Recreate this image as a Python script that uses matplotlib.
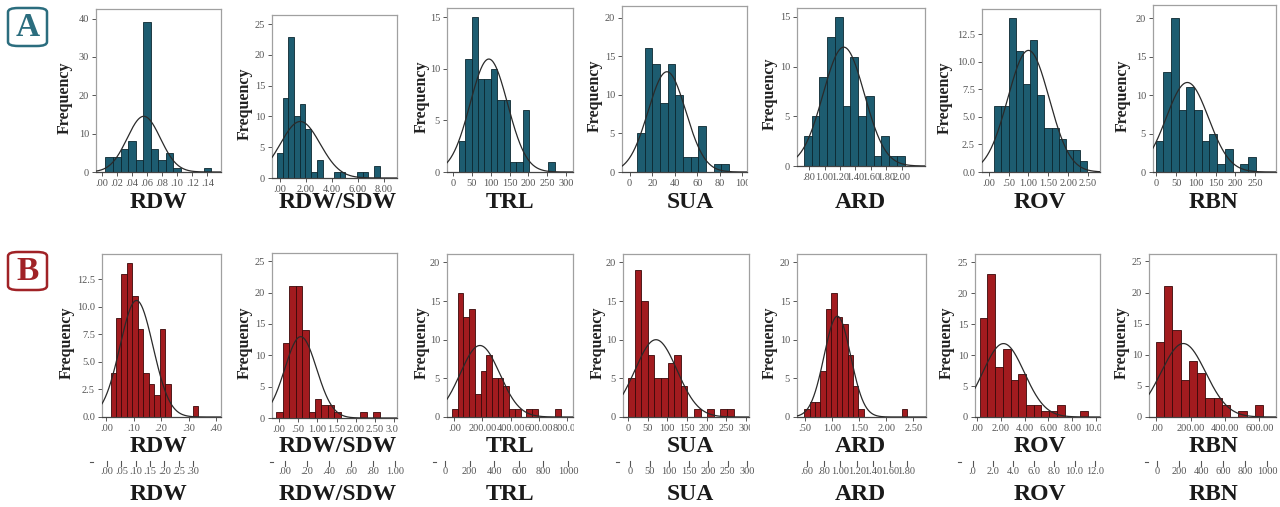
import numpy as np
import matplotlib
matplotlib.use('Agg')
import matplotlib.pyplot as plt
from matplotlib.patches import FancyBboxPatch
from matplotlib.transforms import Bbox, TransformedBbox

W, H = 1280, 507
plt.rcParams['font.family'] = ['Liberation Serif', 'DejaVu Serif']

names = ['RDW', 'RDW/SDW', 'TRL', 'SUA', 'ARD', 'ROV', 'RBN']

# row A (teal): frequency per bin, (left edge of first bin, bin width)
a_rdw = [4, 4, 6, 8, 3, 39, 6, 3, 5, 1, 0, 0, 0, 1]
a_rdw_bins = (0.005, 0.01)
a_rdwsdw = [4, 13, 23, 10, 12, 8, 1, 3, 0, 0, 1, 1, 0, 0, 1, 1, 0, 2]
a_rdwsdw_bins = (-0.25, 0.44)
a_trl = [3, 11, 15, 9, 9, 10, 7, 7, 1, 1, 6, 0, 0, 0, 1]
a_trl_bins = (15, 17)
a_sua = [5, 16, 14, 9, 14, 10, 2, 2, 6, 0, 1, 1]
a_sua_bins = (6.5, 6.8)
a_ard = [3, 5, 9, 13, 15, 6, 11, 5, 7, 1, 3, 1, 1]
a_ard_bins = (0.735, 0.1)
a_rov = [6, 6, 14, 11, 8, 12, 7, 4, 4, 3, 2, 2, 1]
a_rov_bins = (0.14, 0.18)
a_rbn = [4, 13, 20, 8, 11, 8, 4, 5, 1, 3, 0, 1, 2]
a_rbn_bins = (-2, 19.5)

# row B (red)
b_rdw = [4, 9, 13, 14, 11, 8, 4, 3, 2, 8, 3, 0, 0, 0, 0, 1]
b_rdw_bins = (0.015, 0.02)
b_rdwsdw = [1, 12, 21, 21, 14, 1, 3, 2, 2, 1, 0, 0, 0, 1, 0, 1]
b_rdwsdw_bins = (-0.07, 0.168)
b_trl = [1, 16, 13, 14, 3, 6, 8, 5, 5, 4, 1, 1, 0, 1, 1, 0, 0, 0, 1]
b_trl_bins = (-17, 40.7)
b_sua = [5, 19, 15, 8, 5, 5, 7, 8, 4, 0, 1, 0, 1, 0, 1, 1]
b_sua_bins = (0, 16.8)
b_ard = [1, 2, 2, 6, 14, 16, 13, 12, 8, 4, 1, 0, 0, 0, 0, 0, 0, 0, 1]
b_ard_bins = (0.488, 0.1)
b_rov = [16, 23, 8, 11, 6, 7, 2, 2, 1, 1, 2, 0, 0, 1]
b_rov_bins = (0.22, 0.65)
b_rbn = [12, 21, 14, 6, 9, 7, 3, 3, 2, 0, 1, 0, 2]
b_rbn_bins = (-4, 48.3)

# tick labels
a_xticks = [
    ([0, .02, .04, .06, .08, .10, .12, .14], ['.00', '.02', '.04', '.06', '.08', '.10', '.12', '.14']),
    ([0, 2, 4, 6, 8], ['.00', '2.00', '4.00', '6.00', '8.00']),
    ([0, 50, 100, 150, 200, 250, 300], ['0', '50', '100', '150', '200', '250', '300']),
    ([0, 20, 40, 60, 80, 100], ['0', '20', '40', '60', '80', '100']),
    ([.8, 1.0, 1.2, 1.4, 1.6, 1.8, 2.0], ['.80', '1.00', '1.20', '1.40', '1.60', '1.80', '2.00']),
    ([0, .5, 1, 1.5, 2, 2.5], ['.00', '.50', '1.00', '1.50', '2.00', '2.50']),
    ([0, 50, 100, 150, 200, 250], ['0', '50', '100', '150', '200', '250']),
]
b_xticks = [
    ([0, .1, .2, .3, .4], ['.00', '.10', '.20', '.30', '.40']),
    ([0, .5, 1, 1.5, 2, 2.5, 3], ['.00', '.50', '1.00', '1.50', '2.00', '2.50', '3.00']),
    ([0, 200, 400, 600, 800], ['.00', '200.00', '400.00', '600.00', '800.00']),
    ([0, 50, 100, 150, 200, 250, 300], ['0', '50', '100', '150', '200', '250', '300']),
    ([.5, 1, 1.5, 2, 2.5], ['.50', '1.00', '1.50', '2.00', '2.50']),
    ([0, 2, 4, 6, 8, 10], ['.00', '2.00', '4.00', '6.00', '8.00', '10.00']),
    ([0, 200, 400, 600], ['.00', '200.00', '400.00', '600.00']),
]
a_yticks = [[0, 10, 20, 30, 40], [0, 5, 10, 15, 20, 25], [0, 5, 10, 15], [0, 5, 10, 15, 20],
            [0, 5, 10, 15], [0, 2.5, 5, 7.5, 10, 12.5], [0, 5, 10, 15, 20]]
b_yticks = [[0, 2.5, 5, 7.5, 10, 12.5], [0, 5, 10, 15, 20, 25], [0, 5, 10, 15, 20],
            [0, 5, 10, 15, 20], [0, 5, 10, 15, 20], [0, 5, 10, 15, 20, 25], [0, 5, 10, 15, 20, 25]]

# the stray scale row under panel B
extra_labels = [
    ['.00', '.05', '.10', '.15', '.20', '.25', '.30'],
    ['.00', '.20', '.40', '.60', '.80', '1.00'],
    ['0', '200', '400', '600', '800', '1000'],
    ['0', '50', '100', '150', '200', '250', '300'],
    ['.60', '.80', '1.00', '1.20', '1.40', '1.60', '1.80'],
    ['.0', '2.0', '4.0', '6.0', '8.0', '10.0', '12.0'],
    ['0', '200', '400', '600', '800', '1000'],
]

# ---- layout (pixels) ----
# box: x0, x1, top, bottom ; xlim ; ytop ; frequency label offset
a_layout = [
    ((96, 221, 9, 172), (-0.0075, 0.158), 42.5, 31),
    ((272, 397, 15, 178), (-0.62, 9.0), 26.5, 27),
    ((447, 573, 8, 172), (-16, 318), 15.9, 25),
    ((622, 747, 6, 172), (-6.8, 104), 21.5, 27),
    ((797, 925, 8, 166), (0.644, 2.30), 15.9, 27),
    ((982, 1100, 9, 172), (-0.17, 2.8), 14.8, 37),
    ((1153, 1276, 5, 172), (-8.5, 303), 21.7, 30),
]
b_layout = [
    ((102, 221, 254, 417), (-0.016, 0.418), 14.8, 35),
    ((272, 397, 253, 418), (-0.18, 3.07), 26.3, 27),
    ((447, 573, 254, 417), (-52, 843), 21.1, 25),
    ((623, 749, 254, 417), (-12.7, 308), 21.1, 25),
    ((797, 926, 254, 417), (0.358, 2.73), 21.1, 27),
    ((975, 1100, 254, 417), (-0.17, 10.34), 26.3, 28),
    ((1149, 1276, 254, 417), (-43, 698), 26.2, 27),
]
title_x = [158, 338, 510, 690, 860, 1040, 1213]
extra_pos = [(107, 14.33, 92), (285, 22, 272), (445, 24.6, 435), (630, 19.5, 618),
             (807, 16.6, None), (972.6, 20.4, 960), (1157, 22, 1147)]

a_data = [(a_rdw, a_rdw_bins), (a_rdwsdw, a_rdwsdw_bins), (a_trl, a_trl_bins), (a_sua, a_sua_bins),
          (a_ard, a_ard_bins), (a_rov, a_rov_bins), (a_rbn, a_rbn_bins)]
b_data = [(b_rdw, b_rdw_bins), (b_rdwsdw, b_rdwsdw_bins), (b_trl, b_trl_bins), (b_sua, b_sua_bins),
          (b_ard, b_ard_bins), (b_rov, b_rov_bins), (b_rbn, b_rbn_bins)]

teal, teal_edge = '#1d5c70', '#0c2830'
red, red_edge = '#a21b1f', '#3a0809'


def rect(x0, x1, top, bottom):
    return [x0 / W, 1 - bottom / H, (x1 - x0) / W, (bottom - top) / H]


fig = plt.figure(figsize=(W / 100, H / 100), dpi=100)
all_axes = []


def hist(box, counts, bins, xlim, ytop, xt, yt, face, edge, fdx):
    ax = fig.add_axes(rect(*box))
    counts = np.array(counts, dtype=float)
    left, w = bins
    edges = left + w * np.arange(len(counts))
    keep = counts > 0
    ax.bar(edges[keep], counts[keep], width=w, align='edge', color=face,
           edgecolor=edge, linewidth=0.6, zorder=2)
    # normal curve from the binned data
    c = edges + w / 2
    n = counts.sum()
    mu = (counts * c).sum() / n
    sd = np.sqrt((counts * (c - mu) ** 2).sum() / (n - 1))
    xs = np.linspace(xlim[0], xlim[1], 400)
    ax.plot(xs, n * w * np.exp(-0.5 * ((xs - mu) / sd) ** 2) / (sd * np.sqrt(2 * np.pi)),
            color='#2a2a2a', lw=0.9, zorder=3)
    ax.set_xlim(*xlim)
    ax.set_ylim(0, ytop)
    ax.set_xticks(xt[0])
    ax.set_xticklabels(xt[1])
    ax.set_yticks(yt)
    if any(v != int(v) for v in yt):
        ax.set_yticklabels(['%.1f' % v for v in yt])
    else:
        ax.set_yticklabels(['%d' % v for v in yt])
    ax.tick_params(labelsize=7.5, labelcolor='#555555', color='#555555', length=3,
                   width=0.7, pad=2)
    for s in ax.spines.values():
        s.set_color('#a0a0a0')
        s.set_linewidth(0.9)
    ax.spines['bottom'].set_color('#444444')
    x0, x1, top, bottom = box
    fig.text((x0 - fdx) / W, 1 - ((top + bottom) / 2 + 7) / H, 'Frequency', rotation=90,
             ha='center', va='center', fontsize=11.5, fontweight='bold', color='#222222')
    all_axes.append((ax, box))
    return ax


for i in range(7):
    box, xlim, ytop, fdx = a_layout[i]
    hist(box, a_data[i][0], a_data[i][1], xlim, ytop, a_xticks[i], a_yticks[i], teal, teal_edge, fdx)
    fig.text(title_x[i] / W, 1 - 203 / H, names[i], ha='center', va='center',
             fontsize=17, fontweight='bold', color='#1a1a1a')

for i in range(7):
    box, xlim, ytop, fdx = b_layout[i]
    hist(box, b_data[i][0], b_data[i][1], xlim, ytop, b_xticks[i], b_yticks[i], red, red_edge, fdx)
    fig.text(title_x[i] / W, 1 - 446 / H, names[i], ha='center', va='center',
             fontsize=17, fontweight='bold', color='#1a1a1a')
    # stray scale row
    start, step, dash = extra_pos[i]
    ex = fig.add_axes([0, 0, 1, 1], facecolor='none')
    ex.set_xlim(0, W)
    ex.set_ylim(H, 0)
    ex.axis('off')
    clip_right = 929 if i == 4 else W
    clip = TransformedBbox(Bbox([[0, 0], [clip_right / W, 1]]), fig.transFigure)
    for k, lab in enumerate(extra_labels[i]):
        xp = start + k * step
        t = ex.text(xp, 472, lab, ha='center', va='center', fontsize=7.5, color='#555555')
        t.set_clip_box(clip)
        t.set_clip_on(True)
        ex.plot([xp, xp], [461, 466], color='#555555', lw=0.8)
    if dash is not None:
        ex.plot([dash - 2, dash + 1], [462, 462], color='#555555', lw=0.8)
    fig.text(title_x[i] / W, 1 - 495 / H, names[i], ha='center', va='center',
             fontsize=17, fontweight='bold', color='#1a1a1a')

# panel letters
for letter, y0, col in [('A', 8, '#2b6d7e'), ('B', 252, '#a02226')]:
    fig.patches.append(FancyBboxPatch((8 / W, 1 - (y0 + 38) / H), 39 / W, 38 / H,
                                      boxstyle='round,pad=0,rounding_size=0.008',
                                      transform=fig.transFigure, facecolor='white',
                                      edgecolor=col, linewidth=1.8))
    fig.text(27.5 / W, 1 - (y0 + 20) / H, letter, ha='center', va='center',
             fontsize=24, fontweight='bold', color=col)

fig.canvas.draw()
# clip x tick labels that run past the frame
for ax, (x0, x1, top, bottom) in all_axes:
    bb = TransformedBbox(Bbox([[(x0 - 30) / W, 0], [(x1 + 1) / W, 1]]), fig.transFigure)
    for lab in ax.get_xticklabels():
        lab.set_clip_box(bb)
        lab.set_clip_on(True)

fig.savefig('out.png', dpi=100)
